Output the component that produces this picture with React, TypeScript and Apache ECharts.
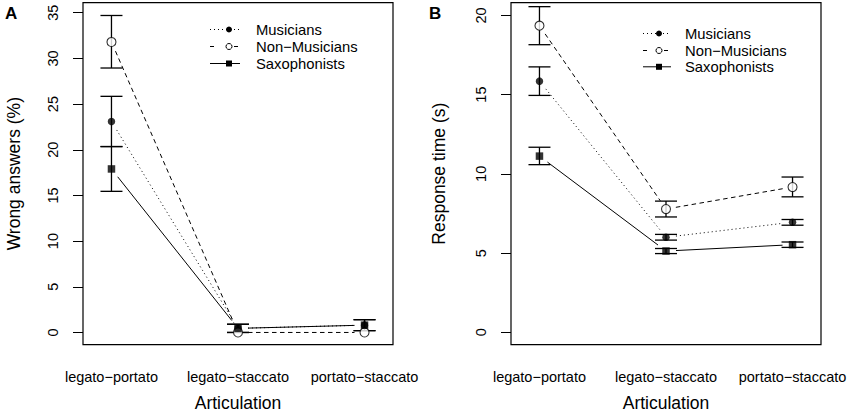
import React, { useEffect, useRef } from "react";
import * as echarts from "echarts";

// ---------- data ----------
const categories = ["legato−portato", "legato−staccato", "portato−staccato"];
const groups = ["Musicians", "Non−Musicians", "Saxophonists"];

// Panel A: wrong answers (%)
const wrongTicks = [0, 5, 10, 15, 20, 25, 30, 35];
const wrongMusicians = [23.1, 0.45, 0.8];
const wrongMusiciansLo = [20.35, 0.0, 0.2];
const wrongMusiciansHi = [25.85, 0.9, 1.4];
const wrongNonMusicians = [31.8, 0, 0];
const wrongNonMusiciansLo = [28.95, 0, 0];
const wrongNonMusiciansHi = [34.7, 0, 0];
const wrongSaxophonists = [17.9, 0.45, 0.8];
const wrongSaxophonistsLo = [15.45, 0.0, 0.2];
const wrongSaxophonistsHi = [20.35, 0.9, 1.4];

// Panel B: response time (s)
const timeTicks = [0, 5, 10, 15, 20];
const timeMusicians = [15.85, 6.0, 6.95];
const timeMusiciansLo = [14.95, 5.82, 6.76];
const timeMusiciansHi = [16.75, 6.18, 7.12];
const timeNonMusicians = [19.35, 7.78, 9.17];
const timeNonMusiciansLo = [18.15, 7.28, 8.55];
const timeNonMusiciansHi = [20.55, 8.28, 9.8];
const timeSaxophonists = [11.12, 5.13, 5.53];
const timeSaxophonistsLo = [10.58, 4.97, 5.36];
const timeSaxophonistsHi = [11.68, 5.29, 5.7];

// ---------- styles ----------
const FONT = "'Liberation Sans', Arial, Helvetica, sans-serif";
const DOTTED = [1, 3];
const DASHED = [4.5, 3.5];

type Group = { vals: number[]; lo: number[]; hi: number[] };

const panelA = {
  letter: "A",
  yName: "Wrong answers (%)",
  yMin: -1.34,
  yMax: 36.1,
  ticks: wrongTicks,
  left: 83,
  nameGap: 60,
  legendY: [29.5, 46.5, 63.5],
  legendX: { l1: 210, l2: 240, sym: 229, text: 256 },
  data: [
    { vals: wrongMusicians, lo: wrongMusiciansLo, hi: wrongMusiciansHi },
    { vals: wrongNonMusicians, lo: wrongNonMusiciansLo, hi: wrongNonMusiciansHi },
    { vals: wrongSaxophonists, lo: wrongSaxophonistsLo, hi: wrongSaxophonistsHi },
  ] as Group[],
};
const panelB = {
  letter: "B",
  yName: "Response time (s)",
  yMin: -0.78,
  yMax: 20.8,
  ticks: timeTicks,
  left: 511,
  nameGap: 63,
  legendY: [33.5, 50.5, 66.8],
  legendX: { l1: 643, l2: 671, sym: 659, text: 685 },
  data: [
    { vals: timeMusicians, lo: timeMusiciansLo, hi: timeMusiciansHi },
    { vals: timeNonMusicians, lo: timeNonMusiciansLo, hi: timeNonMusiciansHi },
    { vals: timeSaxophonists, lo: timeSaxophonistsLo, hi: timeSaxophonistsHi },
  ] as Group[],
};
const panels = [panelA, panelB];

const lineDashes = [DOTTED, DASHED, null];
const GAP = 10;
const CAP = 11;

function buildOption() {
  const grid: any[] = [];
  const xAxis: any[] = [];
  const yAxis: any[] = [];
  const series: any[] = [];
  const graphic: any[] = [];

  panels.forEach((p, pi) => {
    grid.push({
      left: p.left,
      top: 2.7,
      width: 310,
      height: 342,
      containLabel: false,
      outerBoundsMode: "none",
      show: true,
      borderColor: "#000",
      borderWidth: 1.2,
      backgroundColor: "transparent",
    });
    xAxis.push({
      type: "value",
      gridIndex: pi,
      min: 0.775,
      max: 3.225,
      name: "Articulation",
      nameLocation: "middle",
      nameGap: 50,
      nameTextStyle: { fontFamily: FONT, fontSize: 17.5, lineHeight: 16, color: "#000" },
      axisLine: { show: false },
      axisTick: { show: false },
      splitLine: { show: false },
      axisLabel: {
        customValues: categories.map((_, i) => i + 1),
        formatter: (v: number) => categories[Math.round(v) - 1] ?? "",
        margin: 24.5,
        fontFamily: FONT,
        fontSize: 14.5,
        color: "#000",
      },
    });
    yAxis.push({
      type: "value",
      gridIndex: pi,
      min: p.yMin,
      max: p.yMax,
      name: p.yName,
      nameLocation: "middle",
      nameGap: p.nameGap,
      nameTextStyle: { fontFamily: FONT, fontSize: 17.5, color: "#000" },
      axisLine: { show: false },
      splitLine: { show: false },
      axisTick: {
        show: true,
        customValues: p.ticks,
        length: 10,
        lineStyle: { color: "#000", width: 1 },
      },
      axisLabel: {
        customValues: p.ticks,
        rotate: 90,
        margin: 23,
        fontFamily: FONT,
        fontSize: 14.5,
        color: "#000",
      },
    });

    p.data.forEach((g, gi) => {
      // connecting lines (type "b": gaps around points)
      const segs: number[][] = [];
      for (let i = 0; i < g.vals.length - 1; i++) {
        segs.push([i + 1, g.vals[i], i + 2, g.vals[i + 1]]);
      }
      const dash = lineDashes[gi];
      series.push({
        type: "custom",
        name: groups[gi],
        xAxisIndex: pi,
        yAxisIndex: pi,
        z: 1,
        silent: true,
        encode: { x: [0, 2], y: [1, 3] },
        data: segs,
        renderItem: (_params: any, api: any) => {
          const a = api.coord([api.value(0), api.value(1)]);
          const b = api.coord([api.value(2), api.value(3)]);
          const dx = b[0] - a[0];
          const dy = b[1] - a[1];
          const len = Math.sqrt(dx * dx + dy * dy);
          if (len <= 2 * GAP) return null;
          const ux = dx / len;
          const uy = dy / len;
          return {
            type: "line",
            shape: {
              x1: a[0] + ux * GAP,
              y1: a[1] + uy * GAP,
              x2: b[0] - ux * GAP,
              y2: b[1] - uy * GAP,
            },
            style: {
              stroke: "#000",
              lineWidth: 1,
              lineDash: dash ?? undefined,
            },
          };
        },
      });

      // error bars
      const bars: number[][] = [];
      g.vals.forEach((_, i) => {
        if (g.hi[i] !== g.lo[i]) bars.push([i + 1, g.lo[i], g.hi[i]]);
      });
      series.push({
        type: "custom",
        name: groups[gi] + " SE",
        xAxisIndex: pi,
        yAxisIndex: pi,
        z: 2,
        silent: true,
        encode: { x: 0, y: [1, 2] },
        data: bars,
        renderItem: (_params: any, api: any) => {
          const lo = api.coord([api.value(0), api.value(1)]);
          const hi = api.coord([api.value(0), api.value(2)]);
          const st = { stroke: "#000", lineWidth: 1.3 };
          return {
            type: "group",
            children: [
              { type: "line", shape: { x1: lo[0], y1: lo[1], x2: hi[0], y2: hi[1] }, style: st },
              { type: "line", shape: { x1: lo[0] - CAP, y1: lo[1], x2: lo[0] + CAP, y2: lo[1] }, style: st },
              { type: "line", shape: { x1: hi[0] - CAP, y1: hi[1], x2: hi[0] + CAP, y2: hi[1] }, style: st },
            ],
          };
        },
      });

      // points
      const pts = g.vals.map((v, i) => [i + 1, v]);
      const sym =
        gi === 0
          ? { symbol: "circle", symbolSize: 7.5, itemStyle: { color: "#000" } }
          : gi === 1
          ? { symbol: "circle", symbolSize: 9, itemStyle: { color: "#fff", borderColor: "#000", borderWidth: 1.1 } }
          : { symbol: "rect", symbolSize: 7.5, itemStyle: { color: "#000" } };
      series.push({
        type: "scatter",
        name: groups[gi],
        xAxisIndex: pi,
        yAxisIndex: pi,
        z: 3 + gi,
        silent: true,
        data: pts,
        ...sym,
      });
    });

    // panel letter
    graphic.push({
      type: "text",
      left: pi === 0 ? 5 : 429,
      top: 5,
      style: { text: p.letter, font: `bold 17px ${FONT}`, fill: "#000" },
    });

    // legend
    const lx = p.legendX;
    groups.forEach((name, gi) => {
      const y = p.legendY[gi];
      const dash = lineDashes[gi];
      if (gi === 1) {
        graphic.push({
          type: "line",
          shape: { x1: lx.l1, y1: y, x2: lx.l1 + 4, y2: y },
          style: { stroke: "#000", lineWidth: 1 },
        });
        graphic.push({
          type: "line",
          shape: { x1: lx.sym + 5, y1: y, x2: lx.sym + 9, y2: y },
          style: { stroke: "#000", lineWidth: 1 },
        });
      } else {
        graphic.push({
          type: "line",
          shape: { x1: lx.l1, y1: y, x2: lx.l2, y2: y },
          style: { stroke: "#000", lineWidth: 1, lineDash: dash ?? undefined },
        });
      }
      if (gi === 0) {
        graphic.push({ type: "circle", shape: { cx: lx.sym, cy: y, r: 3 }, style: { fill: "#000" }, z: 10 });
      } else if (gi === 1) {
        graphic.push({
          type: "circle",
          shape: { cx: lx.sym, cy: y, r: 3 },
          style: { fill: "#fff", stroke: "#000", lineWidth: 1 },
          z: 10,
        });
      } else {
        graphic.push({ type: "rect", shape: { x: lx.sym - 3, y: y - 3, width: 6, height: 6 }, style: { fill: "#000" }, z: 10 });
      }
      graphic.push({
        type: "text",
        x: lx.text,
        y: y,
        style: {
          text: name,
          font: `14.8px ${FONT}`,
          fill: "#000",
          verticalAlign: "middle",
          align: "left",
        },
      });
    });
  });

  return {
    animation: false,
    backgroundColor: "#fff",
    textStyle: { fontFamily: FONT },
    grid,
    xAxis,
    yAxis,
    series,
    graphic,
  };
}

export default function App() {
  const ref = useRef<HTMLDivElement>(null);
  useEffect(() => {
    document.body.style.margin = "0";
    if (!ref.current) return;
    const chart = echarts.init(ref.current, null, { renderer: "svg" });
    chart.setOption(buildOption() as any);
    return () => chart.dispose();
  }, []);
  return (
    <div
      ref={ref}
      style={{ position: "absolute", left: 0, top: 0, width: 850, height: 412 }}
    />
  );
}
